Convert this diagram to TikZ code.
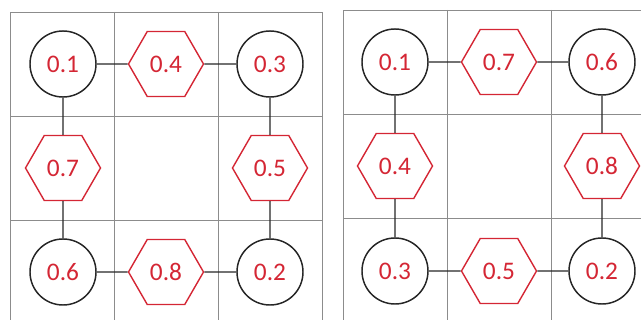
\documentclass[tikz,border=0pt]{standalone}
\usepackage{fontspec}
\setmainfont{Carlito}
\usetikzlibrary{shapes.geometric}
\definecolor{ValRed}{RGB}{212,38,52}
\definecolor{GridGray}{RGB}{140,140,140}

\begin{document}
\begin{tikzpicture}[x=0.025cm,y=-0.025cm,
  cnode/.style={draw=black!85,circle,line width=1.05pt,minimum size=1.65cm,
                inner sep=0pt,text=ValRed,font=\fontsize{18}{21}\selectfont},
  hnode/.style={draw=ValRed,regular polygon,regular polygon sides=6,line width=1pt,
                minimum size=1.875cm,inner sep=0pt,text=ValRed,font=\fontsize{18}{21}\selectfont},
  cell/.style={draw=GridGray,line width=0.7pt},
  link/.style={draw=black!85,line width=0.8pt},
]
\clip (0,0) rectangle (641,320);
% left grid
\draw[cell] (10,12) rectangle (322,324);
\draw[cell] (114,12) -- (114,324);
\draw[cell] (218,12) -- (218,324);
\draw[cell] (10,116) -- (322,116);
\draw[cell] (10,220) -- (322,220);
% right grid
\draw[cell] (343,10) rectangle (655,322);
\draw[cell] (447,10) -- (447,322);
\draw[cell] (551,10) -- (551,322);
\draw[cell] (343,114) -- (655,114);
\draw[cell] (343,218) -- (655,218);

\node[cnode] (l1) at (63,64) {0.1};
\node[hnode] (l4) at (166,64) {0.4};
\node[cnode] (l3) at (270,64) {0.3};
\node[hnode] (l7) at (63,168) {0.7};
\node[hnode] (l5) at (270,168) {0.5};
\node[cnode] (l6) at (63,272) {0.6};
\node[hnode] (l8) at (166,272) {0.8};
\node[cnode] (l2) at (270,272) {0.2};
\draw[link] (l1) -- (l4) -- (l3);
\draw[link] (l1) -- (l7) -- (l6);
\draw[link] (l3) -- (l5) -- (l2);
\draw[link] (l6) -- (l8) -- (l2);

\node[cnode] (r1) at (395,62) {0.1};
\node[hnode] (r7) at (499,62) {0.7};
\node[cnode] (r6) at (602,62) {0.6};
\node[hnode] (r4) at (395,166) {0.4};
\node[hnode] (r8) at (602,166) {0.8};
\node[cnode] (r3) at (395,271) {0.3};
\node[hnode] (r5) at (499,271) {0.5};
\node[cnode] (r2) at (602,271) {0.2};
\draw[link] (r1) -- (r7) -- (r6);
\draw[link] (r1) -- (r4) -- (r3);
\draw[link] (r6) -- (r8) -- (r2);
\draw[link] (r3) -- (r5) -- (r2);
\end{tikzpicture}
\end{document}
